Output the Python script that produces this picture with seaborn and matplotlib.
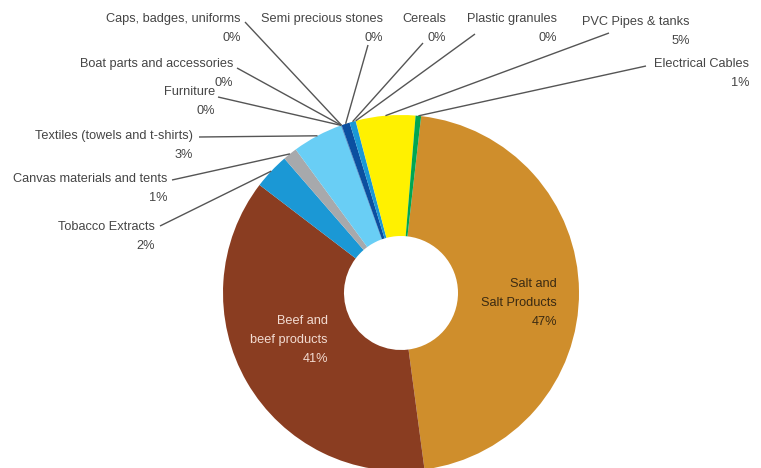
import matplotlib
matplotlib.use("Agg")
import matplotlib.pyplot as plt
import seaborn as sns
import numpy as np

sns.set_theme(style="white")
plt.rcParams['font.family'] = ['Liberation Sans', 'DejaVu Sans']

# ---- data (clockwise from the top) ----
categories = ["Salt and Salt Products", "Beef and beef products", "Tobacco Extracts",
              "Canvas materials and tents", "Textiles (towels and t-shirts)", "Furniture",
              "Boat parts and accessories", "Caps, badges, uniforms", "Semi precious stones",
              "Cereals", "Plastic granules", "PVC Pipes & tanks", "Electrical Cables"]
shares = [46.1, 37.5, 3.25, 1.3, 4.6, 0.02, 0.02, 0.02, 0.75, 0.55, 0.02, 5.4, 0.5]
pct_labels = ["47%", "41%", "2%", "1%", "3%", "0%", "0%", "0%", "0%", "0%", "0%", "5%", "1%"]
colors = ["#CF8E2C", "#8A3D21", "#1B98D5", "#A7A9AC", "#69CEF5", "#0B4FA0",
          "#0B4FA0", "#0B4FA0", "#0B4FA0", "#1B98D5", "#1B98D5", "#FFF100", "#00A651"]

W, H = 761, 468
fig = plt.figure(figsize=(W / 100, H / 100), dpi=100)
ax = fig.add_axes([0, 0, 1, 1])

cx, cy = 401, H - 293
R, r_in = 178, 57
wedges, _ = ax.pie(shares, colors=colors, startangle=83.5, counterclock=False,
                   radius=R, center=(cx, cy), frame=True,
                   wedgeprops=dict(width=R - r_in, linewidth=0))
ax.set_xlim(0, W)
ax.set_ylim(0, H)
ax.set_aspect('equal')
ax.axis('off')

txt_color = "#454545"
fs = 9.2

# outside labels: (index, text right x, name y, leader start x, leader start y) in pixels (top-down y)
outside = [
    (7, 241, 19, 245, 22),
    (8, 383, 19, 368, 45),
    (9, 446, 19, 423, 43),
    (10, 557, 19, 475, 34),
    (11, 690, 22, 609, 33),
    (12, 749, 64, 646, 66),
    (6, 233, 64, 237, 68),
    (5, 215, 92, 218, 97),
    (4, 193, 136, 199, 137),
    (3, 167, 179, 172, 180),
    (2, 155, 227, 160, 226),
]
for i, tx, ty, lx, ly in outside:
    w = wedges[i]
    mid = np.deg2rad((w.theta1 + w.theta2) / 2)
    ex, ey = cx + R * np.cos(mid), cy + R * np.sin(mid)
    ax.plot([lx, ex], [H - ly, ey], color="#555555", lw=1.0, solid_capstyle='butt')
    ax.text(tx, H - ty, categories[i], ha='right', va='center', fontsize=fs, color=txt_color)
    ax.text(tx, H - ty - 19, pct_labels[i], ha='right', va='center', fontsize=fs, color=txt_color)

# inside labels
for j, line in enumerate(["Salt and", "Salt Products", pct_labels[0]]):
    ax.text(557, H - 284 - 19 * j, line, ha='right', va='center', fontsize=fs, color="#3a2a12")
for j, line in enumerate(["Beef and", "beef products", pct_labels[1]]):
    ax.text(328, H - 321 - 19 * j, line, ha='right', va='center', fontsize=fs, color="#F3DCD2")

fig.savefig("out.png", dpi=100, facecolor="white")
